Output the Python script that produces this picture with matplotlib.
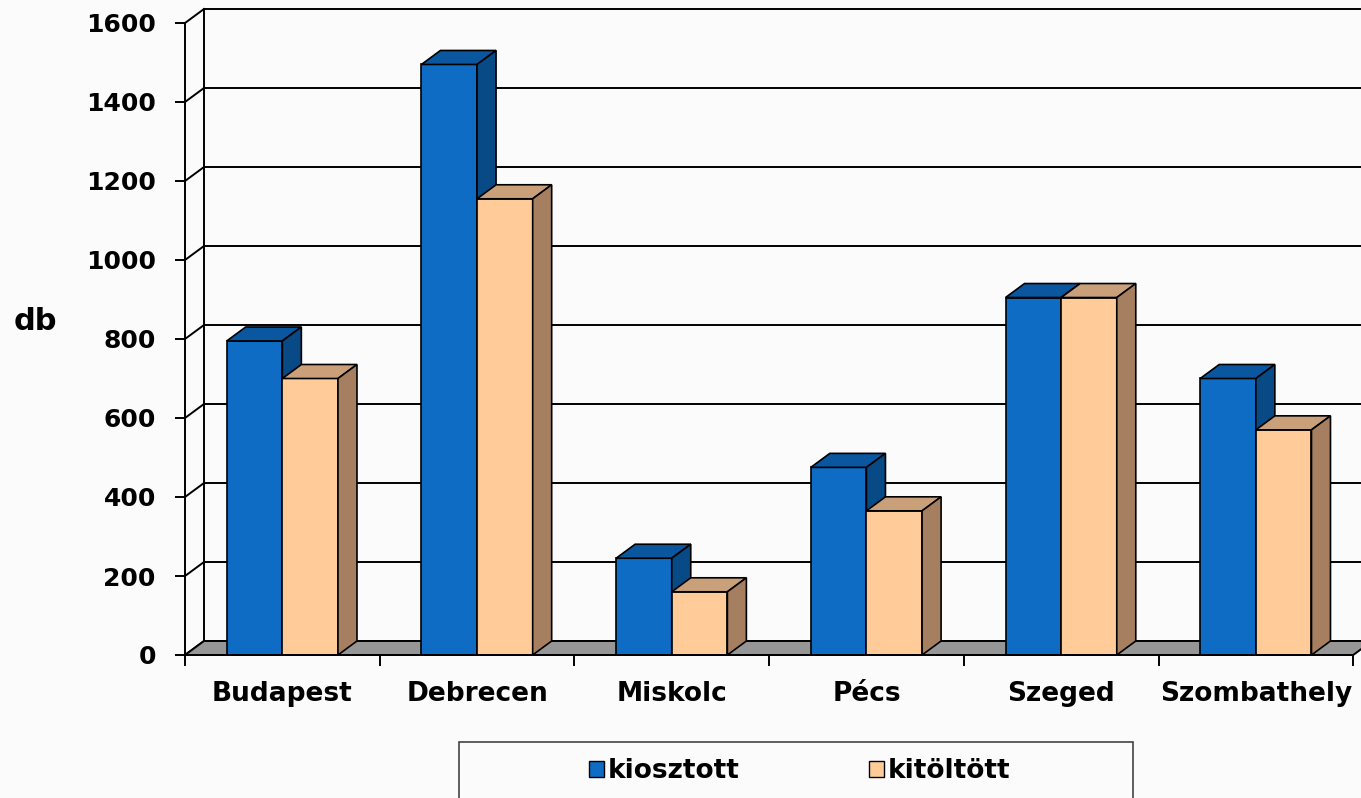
import matplotlib.pyplot as plt
from matplotlib.patches import Polygon, Rectangle, Patch

# data
cities = ['Budapest', 'Debrecen', 'Miskolc', 'Pécs', 'Szeged', 'Szombathely']
kiosztott = [795, 1495, 245, 475, 905, 700]
kitoltott = [700, 1155, 160, 365, 905, 570]
yticks = [0, 200, 400, 600, 800, 1000, 1200, 1400, 1600]

# colours (front, top, side)
blue = ('#0f6cc4', '#0a569f', '#084a86')
peach = ('#ffcc99', '#c9a07a', '#a67f60')

W, H = 1361, 798
fig = plt.figure(figsize=(W / 100, H / 100), dpi=100)
fig.patch.set_facecolor('#fbfbfb')
ax = fig.add_axes([0, 0, 1, 1])
ax.set_facecolor('#fbfbfb')

# pixel geometry of the 3d frame
x0_px, cat_px = 185, 194.7
y0_px, unit_px = 655, 0.395
ax.set_xlim(-x0_px / cat_px, (W - x0_px) / cat_px)
ax.set_ylim(-(H - y0_px) / unit_px, y0_px / unit_px)

dx = 19 / cat_px      # depth offset in category units
dy = 14 / unit_px     # depth offset in value units
n = len(cities)
bw = 1 / 3.5
lc = 'black'
lw = 1.4

# back wall + left wall gridlines
xr = ax.get_xlim()[1] + 1
for v in yticks:
    ax.plot([dx, xr], [v + dy, v + dy], color=lc, lw=lw, zorder=1, solid_capstyle='butt')
    ax.plot([0, dx], [v, v + dy], color=lc, lw=lw, zorder=1)
ax.plot([dx, dx], [dy, yticks[-1] + dy], color=lc, lw=lw, zorder=1)

# floor
floor = Polygon([(0, 0), (n, 0), (n + dx, dy), (dx, dy)], closed=True,
                facecolor='#969696', edgecolor=lc, lw=lw, zorder=2)
ax.add_patch(floor)


def bar3d(x, v, cols):
    ax.add_patch(Rectangle((x, 0), bw, v, facecolor=cols[0], edgecolor=lc, lw=1.2, zorder=3))
    ax.add_patch(Polygon([(x, v), (x + bw, v), (x + bw + dx, v + dy), (x + dx, v + dy)],
                         closed=True, facecolor=cols[1], edgecolor=lc, lw=1.2, zorder=3))
    ax.add_patch(Polygon([(x + bw, 0), (x + bw + dx, dy), (x + bw + dx, v + dy), (x + bw, v)],
                         closed=True, facecolor=cols[2], edgecolor=lc, lw=1.2, zorder=3))


for i in range(n):
    c = i + 0.5
    bar3d(c - bw, kiosztott[i], blue)
    bar3d(c, kitoltott[i], peach)

# axes styling (spine positions first, they reset the ticks)
for s in ['top', 'right']:
    ax.spines[s].set_visible(False)
ax.spines['left'].set_position(('data', 0))
ax.spines['left'].set_bounds(0, yticks[-1])
ax.spines['left'].set_linewidth(lw)
ax.spines['left'].set_zorder(4)
ax.spines['bottom'].set_position(('data', 0))
ax.spines['bottom'].set_bounds(0, n)
ax.spines['bottom'].set_linewidth(lw)
ax.spines['bottom'].set_zorder(4)

ax.set_yticks(yticks)
ax.set_yticklabels([str(v) for v in yticks], fontsize=18, fontweight='bold',
                   family='DejaVu Sans')
ax.tick_params(axis='y', length=7, width=lw, pad=14)

ax.set_xticks([i + 0.5 for i in range(n)])
ax.set_xticklabels(cities, fontsize=19, fontweight='bold', family='DejaVu Sans')
ax.set_xticks(range(n + 1), minor=True)
ax.tick_params(axis='x', which='major', length=0, pad=19)
ax.tick_params(axis='x', which='minor', length=8, width=lw)

fig.text(14 / W, 1 - 322 / H, 'db', fontsize=22, fontweight='bold', va='center', ha='left')

# legend box, cut off by the bottom edge
fig.patches.append(Rectangle((459 / W, -0.05), 674 / W, 0.05 + 1 - 742 / H,
                             transform=fig.transFigure, facecolor='none',
                             edgecolor='#444444', lw=1.2))
handles = [Patch(facecolor=blue[0], edgecolor=lc, label='kiosztott'),
           Patch(facecolor=peach[0], edgecolor=lc, label='kitöltött')]
fig.legend(handles=handles, loc='center', bbox_to_anchor=(800 / W, 1 - 771 / H),
           ncol=2, frameon=False, prop={'size': 19, 'weight': 'bold'},
           handlelength=0.56, handleheight=0.56, handletextpad=0.15, columnspacing=4.9)

fig.savefig('out.png', dpi=100, facecolor=fig.get_facecolor())
